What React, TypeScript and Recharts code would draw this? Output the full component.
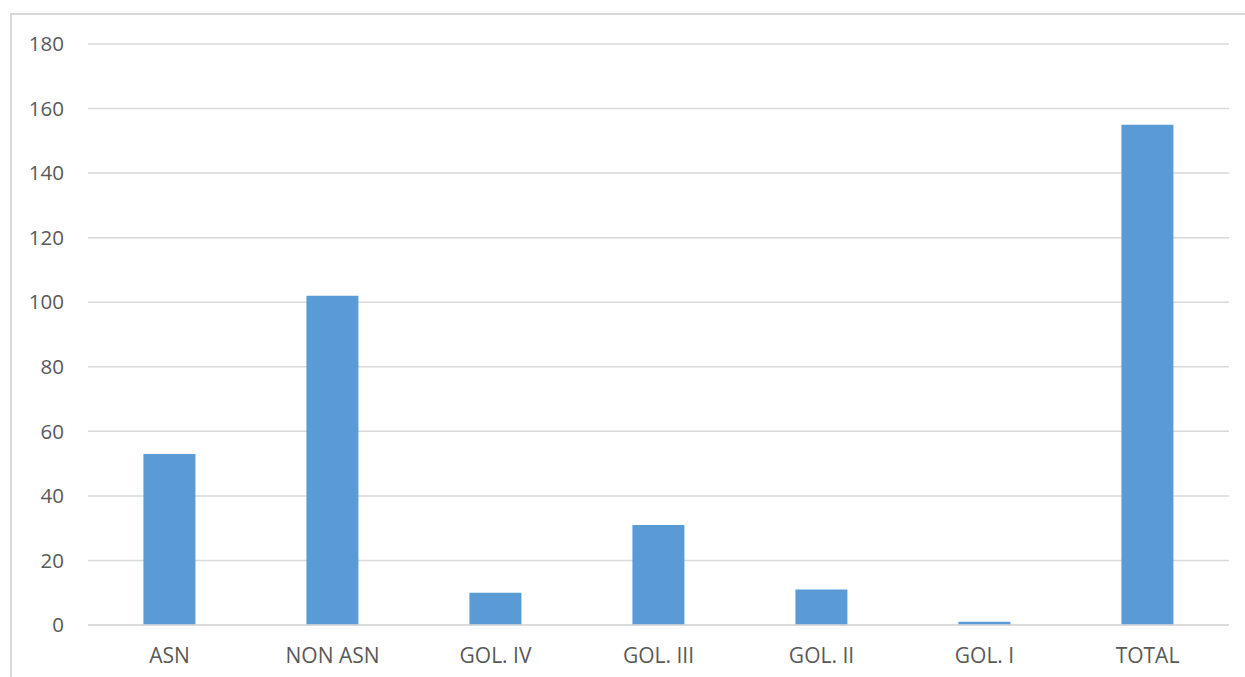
import { BarChart, Bar, XAxis, YAxis, CartesianGrid } from "recharts";

const categories = ["ASN", "NON ASN", "GOL. IV", "GOL. III", "GOL. II", "GOL. I", "TOTAL"];
const values = [53, 102, 10, 31, 11, 1, 155];
const yTicks = [0, 20, 40, 60, 80, 100, 120, 140, 160, 180];

const data = categories.map((name, i) => ({ name, value: values[i] }));

const font = "'Open Sans', sans-serif";
const xTickStyle = { fontSize: 21, fill: "#595959", fontFamily: font };
const yTickStyle = { fontSize: 20.5, fill: "#595959", fontFamily: font };

export default function App() {
  return (
    <div style={{ position: "absolute", left: 0, top: 0, width: 1245, height: 677, background: "#fff", overflow: "hidden" }}>
      <div
        style={{
          position: "absolute",
          left: 10,
          top: 13,
          width: 1300,
          height: 700,
          border: "2px solid #d9d9d9",
        }}
      />
      <div style={{ position: "absolute", left: 0, top: 0 }}>
        <BarChart
          width={1245}
          height={677}
          data={data}
          margin={{ top: 44, right: 16, left: 0, bottom: 22 }}
          barCategoryGap="34%"
        >
          <CartesianGrid vertical={false} stroke="#d9d9d9" strokeWidth={1.5} />
          <XAxis
            dataKey="name"
            height={30}
            tick={xTickStyle}
            tickLine={false}
            axisLine={{ stroke: "#d9d9d9", strokeWidth: 1.5 }}
            tickSize={0}
            tickMargin={23}
            interval={0}
          />
          <YAxis
            width={88}
            domain={[0, 180]}
            ticks={yTicks}
            tick={yTickStyle}
            tickLine={false}
            axisLine={false}
            tickSize={0}
            tickMargin={24}
          />
          <Bar dataKey="value" fill="#5b9bd5" isAnimationActive={false} />
        </BarChart>
      </div>
    </div>
  );
}
